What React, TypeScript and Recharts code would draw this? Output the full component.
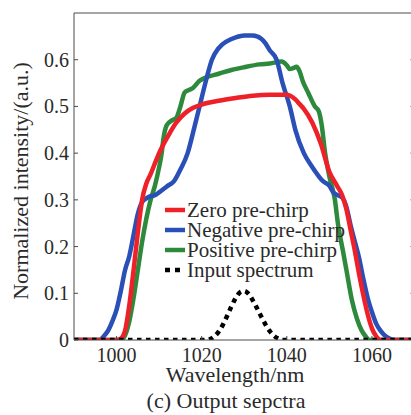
import { LineChart, Line, XAxis, YAxis, Legend } from "recharts";

// wavelength (nm) and normalized intensity
const zeroWl = [990, 1000, 1001, 1002, 1003, 1004, 1005, 1006, 1007, 1008, 1009, 1010, 1012, 1014, 1016, 1018, 1020, 1024, 1028, 1032, 1036, 1040, 1041, 1042, 1043, 1044, 1046, 1048, 1050, 1051.8, 1053, 1054, 1055, 1056, 1057, 1058, 1059, 1060, 1061, 1062, 1070];
const zeroVal = [0, 0, 0.003, 0.02, 0.075, 0.15, 0.23, 0.3, 0.335, 0.355, 0.378, 0.4, 0.435, 0.465, 0.485, 0.497, 0.504, 0.512, 0.518, 0.523, 0.525, 0.525, 0.522, 0.515, 0.505, 0.495, 0.465, 0.42, 0.36, 0.33, 0.31, 0.28, 0.235, 0.19, 0.14, 0.095, 0.055, 0.025, 0.008, 0, 0];

const negWl = [990, 996, 997, 998, 999, 1000, 1001, 1002, 1003, 1004, 1005, 1006, 1007, 1008, 1009, 1010, 1012, 1013.5, 1015, 1016.7, 1018, 1019.5, 1021, 1022.4, 1024, 1026, 1028, 1030, 1032, 1034, 1035, 1036, 1037.6, 1039, 1040.7, 1042, 1044, 1046, 1048.5, 1050, 1051, 1052, 1053, 1054, 1055, 1056, 1057, 1058, 1059, 1060, 1061, 1062, 1063, 1064, 1065, 1070];
const negVal = [0, 0, 0.008, 0.02, 0.04, 0.065, 0.105, 0.15, 0.18, 0.225, 0.27, 0.295, 0.303, 0.308, 0.31, 0.316, 0.33, 0.34, 0.365, 0.4, 0.445, 0.5, 0.555, 0.6, 0.625, 0.64, 0.648, 0.652, 0.652, 0.645, 0.635, 0.62, 0.6, 0.55, 0.5, 0.45, 0.4, 0.37, 0.34, 0.33, 0.315, 0.31, 0.305, 0.285, 0.245, 0.21, 0.175, 0.13, 0.09, 0.06, 0.035, 0.02, 0.01, 0.004, 0, 0];

const posWl = [990, 1001, 1002, 1003, 1004, 1005, 1006, 1007, 1008, 1009, 1010, 1010.6, 1011, 1011.8, 1013, 1014, 1015, 1016, 1017, 1018, 1019.5, 1021, 1024, 1027, 1030, 1033.6, 1036, 1038.8, 1040, 1040.7, 1041.5, 1042.3, 1043, 1043.8, 1045, 1046.6, 1047.5, 1048.2, 1049, 1050, 1051.3, 1052, 1053.2, 1054, 1055.3, 1056.5, 1057.6, 1058.5, 1059.5, 1070];
const posVal = [0, 0, 0.01, 0.04, 0.09, 0.15, 0.21, 0.26, 0.3, 0.33, 0.37, 0.4, 0.43, 0.46, 0.47, 0.475, 0.5, 0.53, 0.535, 0.54, 0.555, 0.562, 0.57, 0.578, 0.584, 0.59, 0.592, 0.596, 0.588, 0.58, 0.582, 0.585, 0.575, 0.553, 0.53, 0.5, 0.49, 0.46, 0.4, 0.35, 0.3, 0.25, 0.19, 0.15, 0.085, 0.045, 0.02, 0.008, 0, 0];

const inputWl = [990, 1021, 1022, 1023, 1024, 1025, 1026, 1027, 1028, 1029, 1030, 1031, 1032, 1033, 1034, 1035, 1036, 1037, 1038, 1039, 1070];
const inputVal = [0, 0, 0.002, 0.008, 0.018, 0.033, 0.052, 0.072, 0.09, 0.102, 0.105, 0.099, 0.085, 0.068, 0.05, 0.033, 0.019, 0.009, 0.003, 0, 0];

const xTicks = [1000, 1020, 1040, 1060];
const yTicks = [0, 0.1, 0.2, 0.3, 0.4, 0.5, 0.6];

const toPoints = (wl: number[], val: number[]) => wl.map((w, i) => ({ wl: w, v: val[i] }));

// legend order
const series = [
  { key: "zero", name: "Zero pre-chirp", color: "#ee2028", dash: undefined, data: toPoints(zeroWl, zeroVal) },
  { key: "neg", name: "Negative pre-chirp", color: "#2a50b8", dash: undefined, data: toPoints(negWl, negVal) },
  { key: "pos", name: "Positive pre-chirp", color: "#2d8a3c", dash: undefined, data: toPoints(posWl, posVal) },
  { key: "input", name: "Input spectrum", color: "#000000", dash: "4.5 4.5", data: toPoints(inputWl, inputVal) },
];
const drawOrder = ["pos", "neg", "zero", "input"];

const FRAME = "#4a4a4a";
const TEXT = "#2a2a2a";
const FONT = "'Liberation Serif'";

const BottomTick = (p: any) => (
  <g>
    <line x1={p.x} y1={p.y} x2={p.x} y2={p.y - 4} stroke={FRAME} />
    <text x={p.x} y={p.y + 22} textAnchor="middle" fontSize={20} fill={TEXT} fontFamily={FONT}>
      {p.payload.value}
    </text>
  </g>
);
const TopTick = (p: any) => <line x1={p.x} y1={p.y} x2={p.x} y2={p.y + 4} stroke={FRAME} />;
const LeftTick = (p: any) => (
  <g>
    <line x1={p.x} y1={p.y} x2={p.x + 4} y2={p.y} stroke={FRAME} />
    <text x={p.x - 5} y={p.y + 7} textAnchor="end" fontSize={20} fill={TEXT} fontFamily={FONT}>
      {p.payload.value}
    </text>
  </g>
);
const RightTick = (p: any) => <line x1={p.x} y1={p.y} x2={p.x - 4} y2={p.y} stroke={FRAME} />;

const LegendBox = () => (
  <div style={{ fontFamily: FONT, fontSize: 21, color: TEXT }}>
    {series.map((s) => (
      <div key={s.key} style={{ display: "flex", alignItems: "center", height: 20, lineHeight: "20px", whiteSpace: "nowrap" }}>
        <svg width={21} height={6} style={{ flex: "none" }}>
          <line x1={0} y1={3} x2={20} y2={3} stroke={s.color} strokeWidth={4.5} strokeDasharray={s.dash ? "5 5" : undefined} />
        </svg>
        <span style={{ marginLeft: 1 }}>{s.name}</span>
      </div>
    ))}
  </div>
);

export default function App() {
  return (
    <div style={{ position: "absolute", left: 0, top: 0, width: 411, height: 415, overflow: "hidden", background: "#fff", fontFamily: FONT }}>
      <LineChart width={420} height={415} margin={{ top: 12, right: 4.5, left: 0, bottom: 0 }}>
        <XAxis
          dataKey="wl"
          type="number"
          domain={[990, 1070]}
          ticks={xTicks}
          allowDataOverflow
          height={75}
          tickSize={0}
          tickMargin={0}
          tickLine={false}
          axisLine={{ stroke: FRAME }}
          tick={BottomTick}
          label={() => (
            <g fontFamily={FONT} fill={TEXT} fontSize={22}>
              <text x={235} y={382} textAnchor="middle">Wavelength/nm</text>
              <text x={226} y={408} textAnchor="middle">(c) Output sepctra</text>
            </g>
          )}
        />
        <XAxis
          xAxisId="top"
          orientation="top"
          type="number"
          domain={[990, 1070]}
          ticks={xTicks}
          allowDataOverflow
          height={1}
          tickSize={0}
          tickMargin={0}
          tickLine={false}
          axisLine={{ stroke: FRAME }}
          tick={TopTick}
        />
        <YAxis
          type="number"
          domain={[0, 0.7]}
          ticks={yTicks}
          allowDataOverflow
          width={74}
          tickSize={0}
          tickMargin={0}
          tickLine={false}
          axisLine={{ stroke: FRAME }}
          tick={LeftTick}
          label={() => (
            <text x={28} y={181} transform="rotate(-90 28 181)" textAnchor="middle" fontFamily={FONT} fill={TEXT} fontSize={22}>
              Normalized intensity/(a.u.)
            </text>
          )}
        />
        <YAxis
          yAxisId="right"
          orientation="right"
          type="number"
          domain={[0, 0.7]}
          ticks={yTicks}
          allowDataOverflow
          width={1}
          tickSize={0}
          tickMargin={0}
          tickLine={false}
          axisLine={{ stroke: FRAME }}
          tick={RightTick}
        />
        {drawOrder.map((k) => {
          const s = series.find((x) => x.key === k)!;
          return (
            <Line
              key={s.key}
              name={s.name}
              data={s.data}
              dataKey="v"
              type="monotone"
              stroke={s.color}
              strokeWidth={4.5}
              strokeDasharray={s.dash}
              dot={false}
              activeDot={false}
              isAnimationActive={false}
            />
          );
        })}
        <Legend
          layout="vertical"
          align="center"
          verticalAlign="middle"
          wrapperStyle={{ left: 165, top: 200, width: "auto", height: "auto" }}
          content={() => <LegendBox />}
        />
      </LineChart>
    </div>
  );
}
